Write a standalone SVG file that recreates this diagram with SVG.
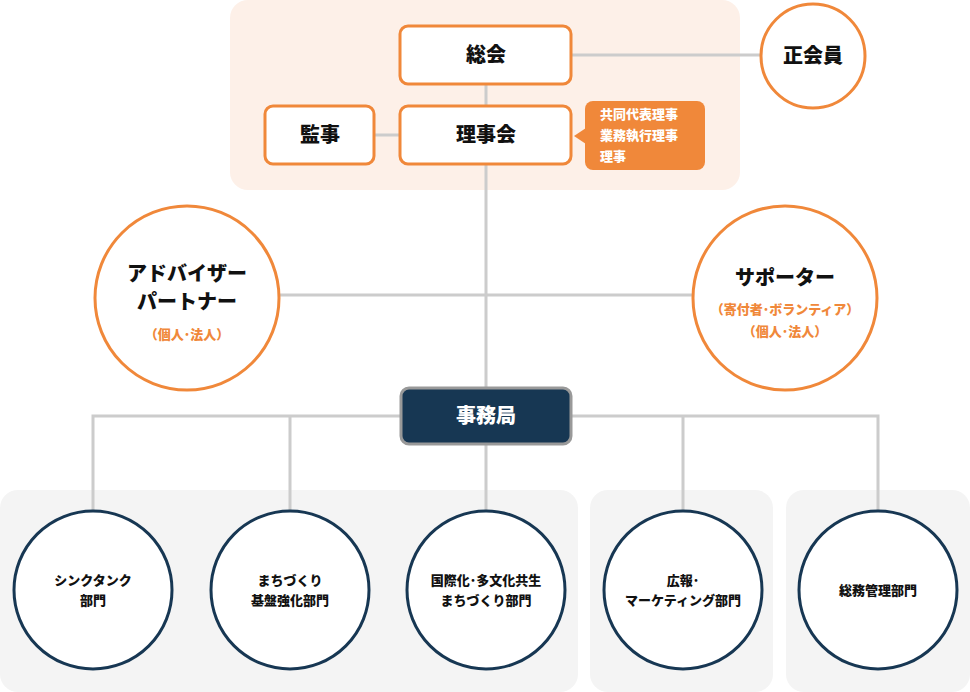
<svg xmlns="http://www.w3.org/2000/svg" width="970" height="692" viewBox="0 0 970 692">
<style>
text{font-family:"Noto Sans CJK JP","Noto Sans",sans-serif;font-weight:900;text-anchor:middle}
.ob{fill:#fff;stroke:#f0883a;stroke-width:3}
.dc{fill:#fff;stroke:#173753;stroke-width:3}
.bg{fill:#f4f4f4}
.ln{stroke:#cccccc;stroke-width:3;fill:none}
.t{font-size:20px;fill:#111}
.s{font-size:13px;fill:#111}
.o{font-size:13px;fill:#f0883a}
</style>
<rect x="230" y="0" width="510" height="190" rx="18" fill="#fdf0e8"/>
<rect class="bg" x="0" y="490" width="578" height="202" rx="18"/>
<rect class="bg" x="590" y="490" width="183" height="202" rx="18"/>
<rect class="bg" x="786" y="490" width="184" height="202" rx="18"/>
<g id="connectors" class="ln">
<path d="M571 55H760M486 84V106M374 135H400M486 164V388M280 295H693"/>
<path d="M93 510V416H878V510M290 416V510M486 444V510M683 416V510"/>
</g>
<g id="soukai"><rect class="ob" x="400" y="26" width="171" height="58" rx="8"/><text class="t" x="486" y="62">総会</text></g>
<g id="kanji"><rect class="ob" x="265" y="106" width="109" height="58" rx="8"/><text class="t" x="320" y="142">監事</text></g>
<g id="rijikai"><rect class="ob" x="400" y="106" width="171" height="58" rx="8"/><text class="t" x="486" y="142">理事会</text></g>
<g id="callout"><rect x="585" y="101" width="120" height="69" rx="8" fill="#f0883a"/><path d="M586 128L574 136L586 144Z" fill="#f0883a"/>
<text x="600" y="119" style="font-size:13px;fill:#fff;text-anchor:start">共同代表理事</text>
<text x="600" y="140" style="font-size:13px;fill:#fff;text-anchor:start">業務執行理事</text>
<text x="600" y="161" style="font-size:13px;fill:#fff;text-anchor:start">理事</text></g>
<g id="seikaiin"><circle class="ob" cx="813" cy="56" r="52"/><text class="t" x="813" y="63">正会員</text></g>
<g id="advisor"><circle class="ob" cx="187" cy="298" r="92"/><text class="t" x="187" y="281">アドバイザー</text><text class="t" x="187" y="309">パートナー</text><text class="o" x="187" y="339">（個人･法人）</text></g>
<g id="supporter"><circle class="ob" cx="785" cy="298" r="92"/><text class="t" x="785" y="285">サポーター</text><text class="o" x="785" y="314">（寄付者･ボランティア）</text><text class="o" x="785" y="336">（個人･法人）</text></g>
<g id="jimukyoku"><rect x="401" y="388" width="170" height="56" rx="8" fill="#173753" stroke="#999" stroke-width="3"/><text class="t" x="486" y="423" style="fill:#fff">事務局</text></g>
<g id="d1"><circle class="dc" cx="93" cy="590" r="79"/><text class="s" x="93" y="585">シンクタンク</text><text class="s" x="93" y="605">部門</text></g>
<g id="d2"><circle class="dc" cx="290" cy="590" r="79"/><text class="s" x="290" y="585">まちづくり</text><text class="s" x="290" y="605">基盤強化部門</text></g>
<g id="d3"><circle class="dc" cx="486" cy="590" r="79"/><text class="s" x="486" y="585">国際化･多文化共生</text><text class="s" x="486" y="605">まちづくり部門</text></g>
<g id="d4"><circle class="dc" cx="683" cy="590" r="79"/><text class="s" x="683" y="585">広報･</text><text class="s" x="683" y="605">マーケティング部門</text></g>
<g id="d5"><circle class="dc" cx="878" cy="590" r="79"/><text class="s" x="878" y="595">総務管理部門</text></g>
</svg>
